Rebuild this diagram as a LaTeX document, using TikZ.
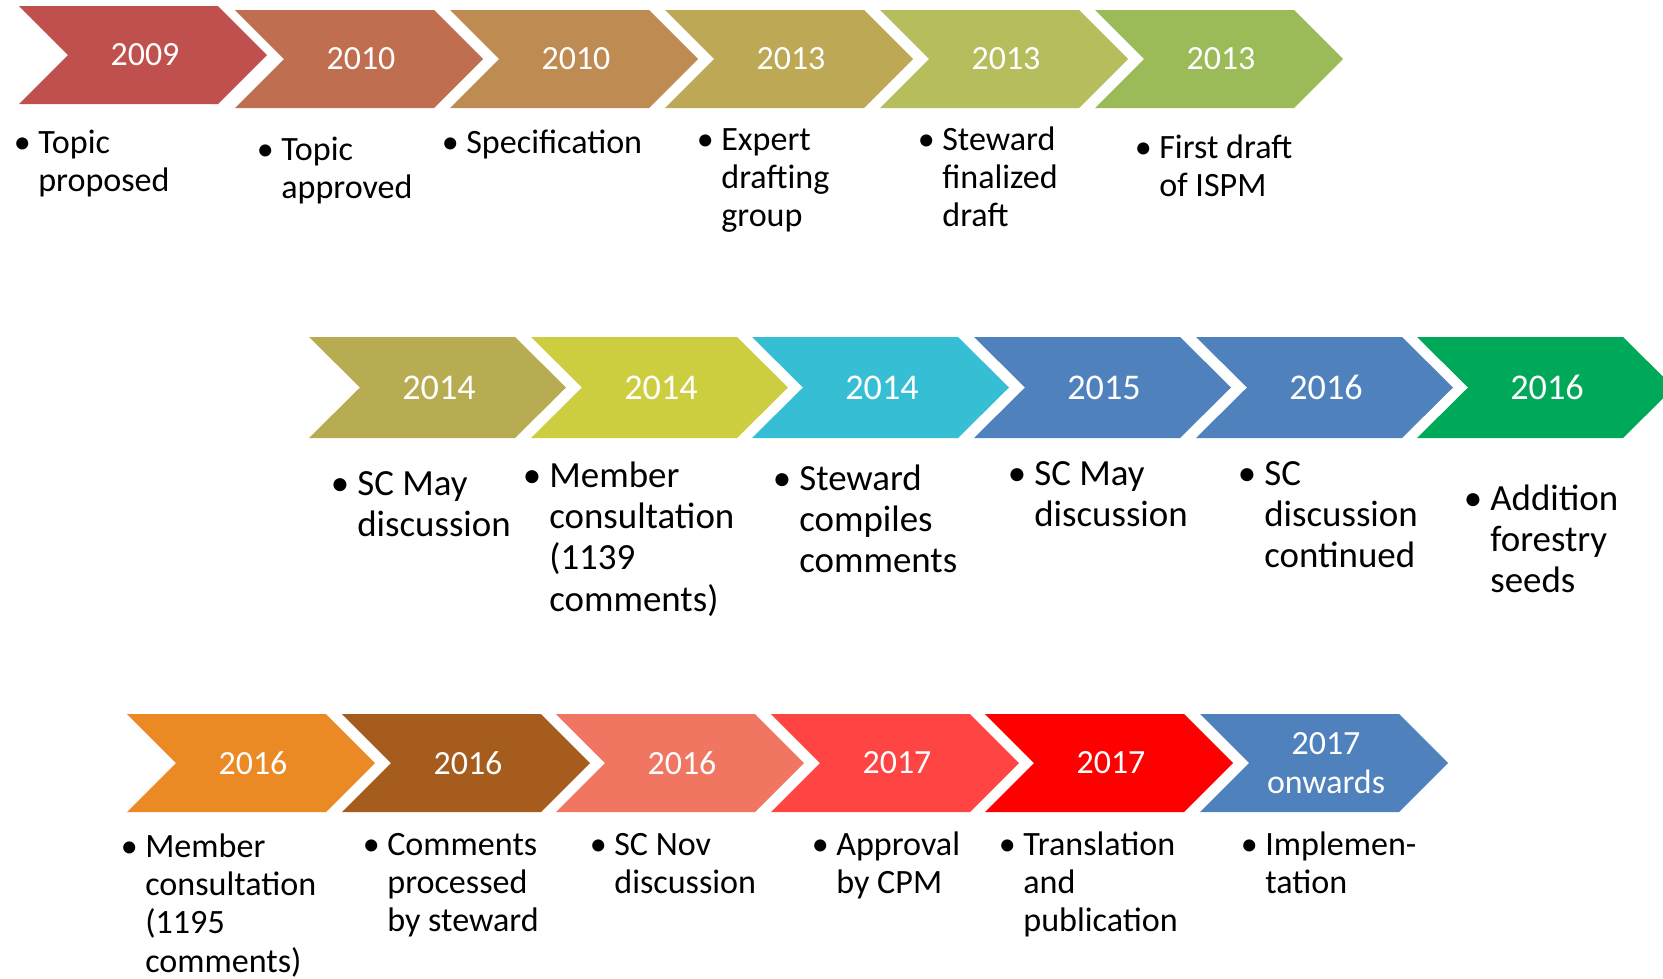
\documentclass[tikz,border=0pt]{standalone}
\usepackage{fontspec}
\setmainfont{Carlito}

% arrow colours, top / middle / bottom row
\definecolor{t1}{RGB}{192,80,77}
\definecolor{t2}{RGB}{191,111,80}
\definecolor{t3}{RGB}{190,140,83}
\definecolor{t4}{RGB}{189,168,85}
\definecolor{t5}{RGB}{181,189,93}
\definecolor{t6}{RGB}{155,187,89}
\definecolor{m1}{RGB}{184,172,82}
\definecolor{m2}{RGB}{204,206,64}
\definecolor{m3}{RGB}{54,190,212}
\definecolor{m4}{RGB}{79,129,189}
\definecolor{m5}{RGB}{79,129,189}
\definecolor{m6}{RGB}{0,168,89}
\definecolor{b1}{RGB}{235,137,36}
\definecolor{b2}{RGB}{165,92,28}
\definecolor{b3}{RGB}{240,118,98}
\definecolor{b4}{RGB}{255,68,68}
\definecolor{b5}{RGB}{255,0,0}
\definecolor{b6}{RGB}{79,129,189}

\newcommand{\bul}{\llap{\textbullet\hspace{0.22em}}}
\newcommand{\lines}[1]{\bul\begin{tabular}[t]{@{}l@{}}#1\end{tabular}}

\tikzset{
  year/.style={text=white, align=center, font=\fontsize{19.3}{21.9}\selectfont},
  bigyear/.style={year, font=\fontsize{20.6}{23}\selectfont},
  note/.style={anchor=base west, inner sep=0pt, font=\fontsize{19.4}{21.9}\selectfont},
  bignote/.style={note, font=\fontsize{21}{23.6}\selectfont},
}

\begin{document}
\begin{tikzpicture}[x=0.02cm, y=-0.02cm]
  \clip (0,0) rectangle (1663,978);
  \fill[white] (0,0) rectangle (1663,978);

  % top row of arrows, using a loop
  \foreach \x/\t/\c/\yr [count=\i] in {19/6/t1/2009, 235/10/t2/2010, 450/10/t3/2010,
      665/10/t4/2013, 880/10/t5/2013, 1095/10/t6/2013}{
    \fill[\c] (\x,\t) -- ++(199,0) -- ++(49,49) -- ++(-49,49) -- ++(-199,0) -- ++(49,-49) -- cycle;
    \node[year] (top\i) at (\x+126,\t+49) {\yr};
  }
  % middle row, a bit larger
  \foreach \x/\c/\yr [count=\i] in {309/m1/2014, 531/m2/2014, 752/m3/2014,
      974/m4/2015, 1196/m5/2016, 1417/m6/2016}{
    \fill[\c] (\x,337) -- ++(206,0) -- ++(51,50.5) -- ++(-51,50.5) -- ++(-206,0) -- ++(51,-50.5) -- cycle;
    \node[bigyear] (mid\i) at (\x+130,387.5) {\yr};
  }
  % bottom row
  \foreach \x/\c/\yr [count=\i] in {127/b1/2016, 342/b2/2016, 556/b3/2016,
      771/b4/2017, 985/b5/2017, 1200/b6/{2017\\onwards}}{
    \fill[\c] (\x,714) -- ++(199,0) -- ++(49,49) -- ++(-49,49) -- ++(-199,0) -- ++(49,-49) -- cycle;
    \node[year] (bot\i) at (\x+126,763) {\yr};
  }

  % the bullet texts under the arrows
  \foreach \x/\y/\txt [count=\i] in {38/153/{Topic\\proposed}, 281/160/{Topic\\approved},
      466/153/{Specification}, 721/150/{Expert\\drafting\\group},
      942/150/{Steward\\finalized\\draft}, 1159/158/{First draft\\of ISPM}}
    \node[note] (topnote\i) at (\x,\y) {\lines{\txt}};
  \foreach \x/\y/\txt [count=\i] in {357/495/{SC May\\discussion},
      549/487/{Member\\consultation\\(1139\\comments)}, 799/490/{Steward\\compiles\\comments},
      1034/485/{SC May\\discussion}, 1264/485/{SC\\discussion\\continued},
      1490/510/{Addition\\forestry\\seeds}}
    \node[bignote] (midnote\i) at (\x,\y) {\lines{\txt}};
  \foreach \x/\y/\txt [count=\i] in {145/857/{Member\\consultation\\(1195\\comments)},
      387/855/{Comments\\processed\\by steward}, 614/855/{SC Nov\\discussion},
      836/855/{Approval\\by CPM}, 1023/855/{Translation\\and\\publication},
      1265/855/{Implemen-\\tation}}
    \node[note] (botnote\i) at (\x,\y) {\lines{\txt}};
\end{tikzpicture}
\end{document}
